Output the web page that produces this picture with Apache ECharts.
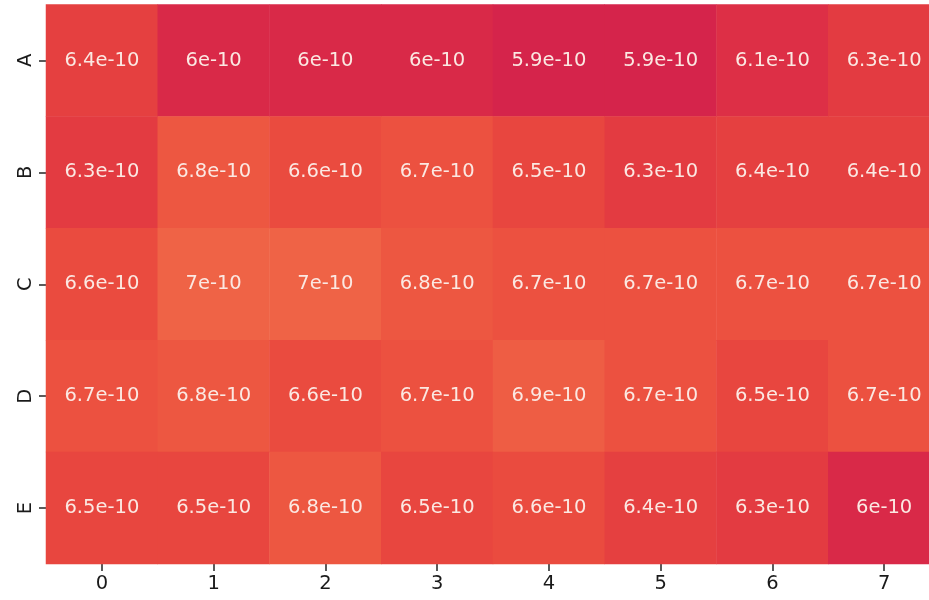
<!DOCTYPE html>
<html>
<head>
<meta charset="utf-8">
<script src="https://cdn.jsdelivr.net/npm/echarts@6/dist/echarts.min.js"></script>
<style>
  html, body { margin: 0; padding: 0; background: #ffffff; overflow: hidden; }
  /* the plot area runs slightly past the right edge of the window */
  #chart { width: 940px; height: 600px; }
</style>
</head>
<body>
<div id="chart"></div>
<script>
// Column and row categories
const columns = ['0', '1', '2', '3', '4', '5', '6', '7'];
const rows = ['A', 'B', 'C', 'D', 'E'];

// Cell values (units of 1e-10), one array per row
const rowA = [6.4, 6.0, 6.0, 6.0, 5.9, 5.9, 6.1, 6.3];
const rowB = [6.3, 6.8, 6.6, 6.7, 6.5, 6.3, 6.4, 6.4];
const rowC = [6.6, 7.0, 7.0, 6.8, 6.7, 6.7, 6.7, 6.7];
const rowD = [6.7, 6.8, 6.6, 6.7, 6.9, 6.7, 6.5, 6.7];
const rowE = [6.5, 6.5, 6.8, 6.5, 6.6, 6.4, 6.3, 6.0];
const rowValues = [rowA, rowB, rowC, rowD, rowE];

const exponent = 'e-10';

const cells = [];
rowValues.forEach((vals, r) => {
  vals.forEach((v, c) => cells.push([c, r, v]));
});

function fmt(v) {
  const s = Number.isInteger(v) ? String(v) : v.toFixed(1);
  return s + exponent;
}

const chart = echarts.init(document.getElementById('chart'), null, { renderer: 'canvas' });
chart.setOption({
  animation: false,
  backgroundColor: '#ffffff',
  grid: { left: 46, right: 0, top: 4.5, height: 559.5, containLabel: false },
  xAxis: {
    type: 'category',
    data: columns,
    position: 'bottom',
    axisLine: { show: false },
    axisTick: { show: true, alignWithLabel: true, length: 7, lineStyle: { color: '#262626', width: 1.5 } },
    axisLabel: { color: '#1a1a1a', fontSize: 19.5, fontFamily: 'DejaVu Sans', margin: 10 },
    splitLine: { show: false }
  },
  yAxis: {
    type: 'category',
    data: rows,
    inverse: true,
    axisLine: { show: false },
    axisTick: { show: true, alignWithLabel: true, length: 7, lineStyle: { color: '#262626', width: 1.5 } },
    axisLabel: { color: '#1a1a1a', fontSize: 19.5, fontFamily: 'DejaVu Sans', rotate: 90, margin: 10 },
    splitLine: { show: false }
  },
  visualMap: {
    show: false,
    min: 5.9,
    max: 7.0,
    dimension: 2,
    inRange: { color: ['#d5244b', '#de3045', '#e43d40', '#e9493f', '#ed5641', '#ef6346'] }
  },
  series: [{
    type: 'heatmap',
    data: cells,
    label: {
      show: true,
      formatter: p => fmt(p.value[2]),
      color: '#fbe8e2',
      fontSize: 19.5,
      fontFamily: 'DejaVu Sans'
    },
    itemStyle: { borderWidth: 0 },
    emphasis: { disabled: true }
  }]
});
</script>
</body>
</html>
